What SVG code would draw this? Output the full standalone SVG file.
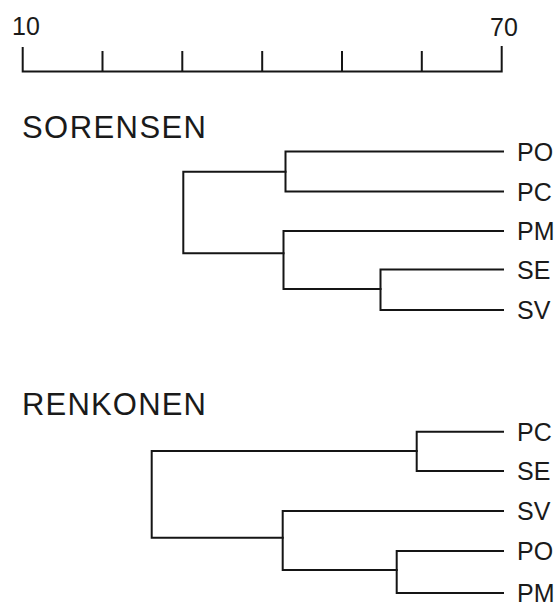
<svg xmlns="http://www.w3.org/2000/svg" width="558" height="606" viewBox="0 0 558 606">
  <style>
    .ln { fill: none; stroke: #151515; stroke-width: 2; stroke-linecap: square; stroke-linejoin: miter; }
    .tick { font-family: "Liberation Sans", Arial, sans-serif; font-size: 25px; fill: #1a1a1a; }
    .title { font-family: "Liberation Sans", Arial, sans-serif; font-size: 31px; fill: #1a1a1a; }
    .leaf { font-family: "Liberation Sans", Arial, sans-serif; font-size: 25px; fill: #1a1a1a; }
  </style>
  <rect width="558" height="606" fill="#ffffff"/>

  <!-- similarity scale, 10 to 70 -->
  <g id="scale">
    <text class="tick" x="12" y="35">10</text>
    <text class="tick" x="490" y="36">70</text>
    <path class="ln" d="M22.7 48 V71.5 H501.7 V47 M102.5 52 V71.5 M182.3 52 V71.5 M262.2 52 V71.5 M342 52 V71.5 M421.8 52 V71.5"/>
  </g>

  <!-- SORENSEN dendrogram -->
  <g id="sorensen-title"><text class="title" x="22" y="138" textLength="184" lengthAdjust="spacing">SORENSEN</text></g>
  <g id="s-PO"><text class="leaf" x="517" y="160.5">PO</text></g>
  <g id="s-PC"><text class="leaf" x="517" y="200.5">PC</text></g>
  <g id="s-PM"><text class="leaf" x="517" y="240">PM</text></g>
  <g id="s-SE"><text class="leaf" x="517" y="278.5">SE</text></g>
  <g id="s-SV"><text class="leaf" x="517" y="319">SV</text></g>
  <g id="s-connectors">
    <path class="ln" d="M503 151.5 H285.5 V191.5 H503"/>
    <path class="ln" d="M503 269.5 H380.5 V310 H503"/>
    <path class="ln" d="M503 231 H283.5 V289 H380.5"/>
    <path class="ln" d="M285.5 171.7 H183.3 V253.3 H283.5"/>
  </g>

  <!-- RENKONEN dendrogram -->
  <g id="renkonen-title"><text class="title" x="22" y="415" textLength="184" lengthAdjust="spacing">RENKONEN</text></g>
  <g id="r-PC"><text class="leaf" x="517" y="440.7">PC</text></g>
  <g id="r-SE"><text class="leaf" x="517" y="480">SE</text></g>
  <g id="r-SV"><text class="leaf" x="517" y="520">SV</text></g>
  <g id="r-PO"><text class="leaf" x="517" y="560">PO</text></g>
  <g id="r-PM"><text class="leaf" x="517" y="602">PM</text></g>
  <g id="r-connectors">
    <path class="ln" d="M503 431.7 H416.7 V471 H503"/>
    <path class="ln" d="M503 551 H396.7 V593 H503"/>
    <path class="ln" d="M503 511 H282.7 V570 H396.7"/>
    <path class="ln" d="M416.7 451 H151.7 V537.7 H282.7"/>
  </g>
</svg>
